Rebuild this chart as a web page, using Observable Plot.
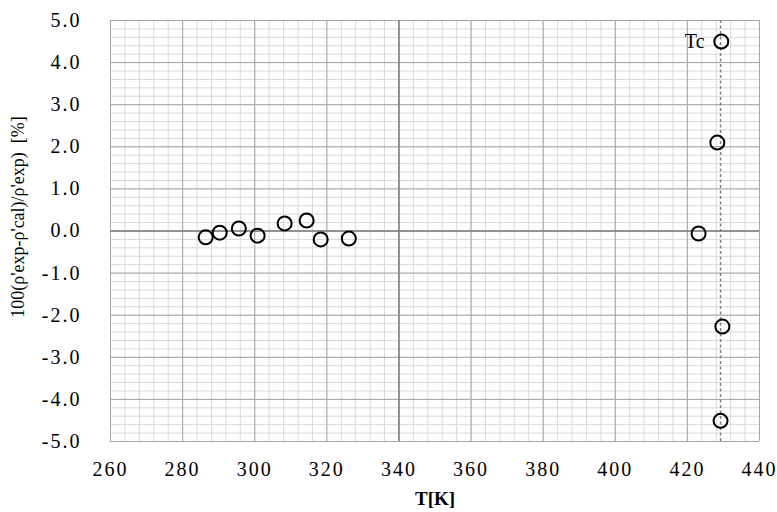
<!DOCTYPE html>
<html><head>
<meta charset="utf-8">
<script src="https://cdn.jsdelivr.net/npm/d3@7"></script>
<script src="https://cdn.jsdelivr.net/npm/@observablehq/plot@0.6"></script>
<style>
body{margin:0;background:#fff}
#chart svg, #chart svg text { font-family: "Liberation Serif", "Times New Roman", serif !important; }
#chart [aria-label="x-axis tick label"] text, #chart [aria-label="y-axis tick label"] text { letter-spacing: 2px; }
</style>
</head><body><div id="chart"></div>
<script>
const temperatures = [286.4, 290.3, 295.6, 300.8, 308.3, 314.4, 318.3, 326.1, 423.1, 428.3, 429.4, 429.7, 429.2];
const deviations   = [-0.15, -0.04, 0.06, -0.11, 0.18, 0.25, -0.20, -0.18, -0.06, 2.10, 4.50, -2.27, -4.51];
const tcTemperature = 429.2;
const tcLabel = "Tc";
const tcLabelValue = 4.5;
const xTicks = [260, 280, 300, 320, 340, 360, 380, 400, 420, 440];
const yTicks = [-5, -4, -3, -2, -1, 0, 1, 2, 3, 4, 5];
const xMinorTicks = d3.range(260, 441, 4);
const yMinorTicks = d3.range(-25, 26).map(i => i / 5);
const axisCrossX = 340;
const axisCrossY = 0;
const xLabel = "T[K]";
const yLabel = "100(ρ'exp-ρ'cal)/ρ'exp)  [%]";

const points = temperatures.map((t, i) => ({t, d: deviations[i]}));

const chart = Plot.plot({
  width: 777,
  height: 512,
  marginLeft: 110,
  marginRight: 18,
  marginTop: 20,
  marginBottom: 71,
  style: {fontSize: "20px", background: "#fff", color: "#000"},
  x: {domain: [260, 440]},
  y: {domain: [-5, 5]},
  marks: [
    Plot.ruleX(xMinorTicks, {stroke: "#d9d9d9", strokeWidth: 1}),
    Plot.ruleY(yMinorTicks, {stroke: "#d9d9d9", strokeWidth: 1}),
    Plot.ruleX(xTicks, {stroke: "#a6a6a6", strokeWidth: 1}),
    Plot.ruleY(yTicks, {stroke: "#a6a6a6", strokeWidth: 1}),
    Plot.ruleX([axisCrossX], {stroke: "#7f7f7f", strokeWidth: 1.5}),
    Plot.ruleY([axisCrossY], {stroke: "#7f7f7f", strokeWidth: 1.5}),
    Plot.ruleX([tcTemperature], {stroke: "#808080", strokeWidth: 1.5, strokeDasharray: "3,2.5"}),
    Plot.axisX({ticks: xTicks, tickFormat: d => String(d), tickSize: 0, tickPadding: 20, label: null, fontSize: 20}),
    Plot.axisY({ticks: yTicks, tickFormat: d => d.toFixed(1), tickSize: 0, tickPadding: 29, label: null, fontSize: 20}),
    Plot.dot(points, {x: "t", y: "d", r: 7, stroke: "#000", strokeWidth: 2, fill: "none"}),
    Plot.text([tcLabel], {x: tcTemperature, y: tcLabelValue, text: d => d, textAnchor: "end", dx: -16, fontSize: 20}),
    Plot.text([xLabel], {frameAnchor: "bottom", dy: 57, text: d => d, fontWeight: "bold", fontSize: 19, lineAnchor: "middle"}),
    Plot.text([yLabel], {frameAnchor: "left", textAnchor: "middle", dx: -92, dy: -14, rotate: -90, text: d => d, fontSize: 18, lineAnchor: "middle"})
  ]
});
document.getElementById("chart").appendChild(chart);
</script>
</body></html>
